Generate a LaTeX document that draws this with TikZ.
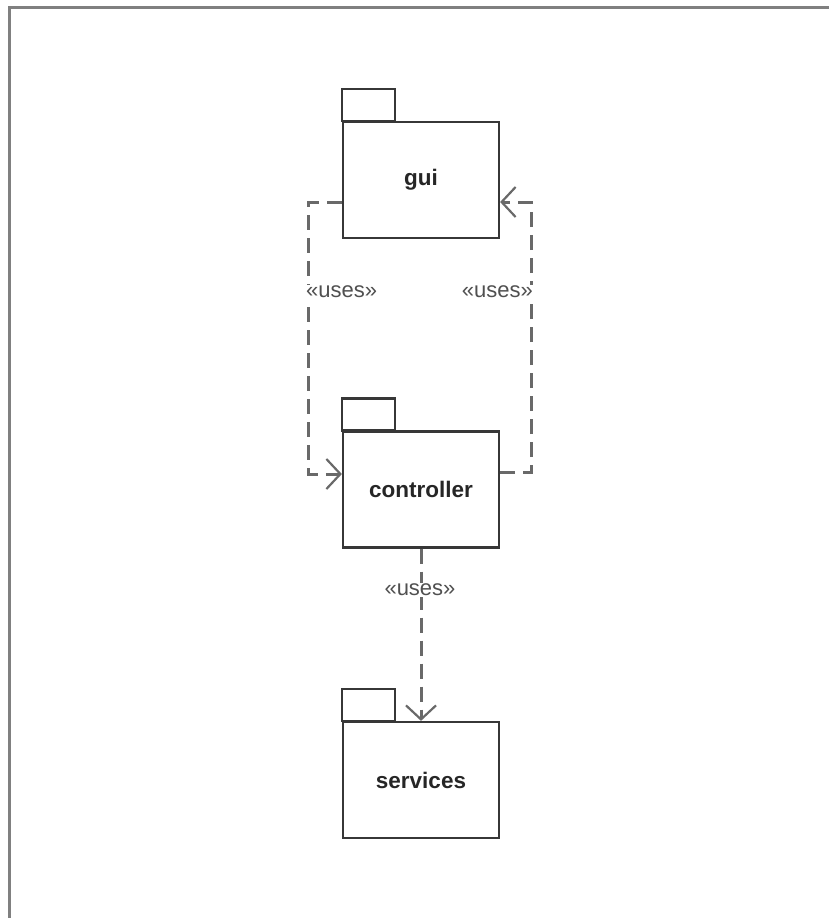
\documentclass[tikz,border=0pt]{standalone}
\usepackage{fontspec}
\setmainfont{Liberation Sans}
\usetikzlibrary{arrows.meta,positioning,calc}
\definecolor{frameGray} {RGB}{128,128,128}
\definecolor{pkgLine}   {RGB}{ 55, 55, 55}
\definecolor{depGray}   {RGB}{105,105,105}
\definecolor{stereoGray}{RGB}{ 80, 80, 80}

\tikzset{
  pkgbody/.style={draw=pkgLine, line width=2.2pt, minimum width=156pt,
    minimum height=116pt, inner sep=0pt,
    font=\fontsize{22.5}{26}\selectfont\bfseries, text=black!85},
  pkgtab/.style={draw=pkgLine, line width=2.2pt},
  usesdep/.style={draw=depGray, line width=3pt, dash pattern=on 15pt off 8pt,
    -{Straight Barb[length=14pt,width=30pt,line width=2.2pt]}},
  stereo/.style={font=\fontsize{22}{26}\selectfont, text=stereoGray,
    fill=white, inner sep=1pt},
}

\begin{document}
\begin{tikzpicture}[x=1pt,y=-1pt]
  \useasboundingbox (0,0) rectangle (829,918);
  % frame (top and left only)
  \draw[frameGray, line width=3pt] (9.5,918) -- (9.5,7) -- (829,7);

  % packages
  \foreach \n/\y in {gui/180, controller/489.5, services/780}{
    \node[pkgbody] (\n) at (421,\y) {\n};
    \draw[pkgtab] (\n.north west) rectangle ++(53,-32);
  }

  % dependencies
  \draw[usesdep] ($(gui.west)+(0,22)$) -- ++(-33,0)
    |- ($(controller.west)+(0,-15.5)$);
  \draw[usesdep] ($(controller.east)+(0,-17.5)$) -- ++(31,0)
    |- ($(gui.east)+(0,22)$);
  \draw[usesdep] (controller.south) -- (services.north);

  \node[stereo, anchor=west] (usesL) at (305,292) {«uses»};
  \node[stereo, anchor=east] (usesR) at (534,292) {«uses»};
  \node[stereo] (usesB) at (420,590) {«uses»};
\end{tikzpicture}
\end{document}
